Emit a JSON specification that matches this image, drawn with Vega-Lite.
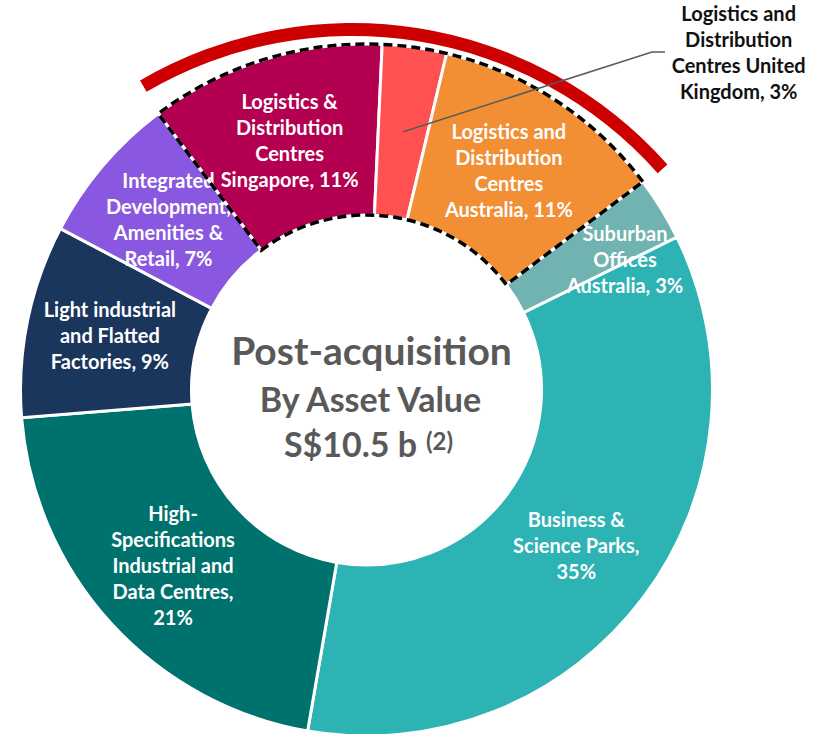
{
  "$schema": "https://vega.github.io/schema/vega-lite/v6.json",
  "width": 733,
  "height": 688,
  "autosize": {"type": "none"},
  "padding": {"left": 0, "top": 46, "right": 86, "bottom": 0},
  "background": "white",
  "config": {"view": {"stroke": null}, "font": "Lato"},
  "datasets": {
    "slices": [
      {"rank": 1, "name": "Logistics & Distribution Centres Singapore", "group": "Logistics", "value": 11, "label": ["Logistics &", "Distribution", "Centres", "Singapore, 11%"]},
      {"rank": 2, "name": "Logistics and Distribution Centres United Kingdom", "group": "Logistics", "value": 3, "label": ["Logistics and", "Distribution", "Centres United", "Kingdom, 3%"]},
      {"rank": 3, "name": "Logistics and Distribution Centres Australia", "group": "Logistics", "value": 11, "label": ["Logistics and", "Distribution", "Centres", "Australia, 11%"]},
      {"rank": 4, "name": "Suburban Offices Australia", "group": "Other", "value": 3, "label": ["Suburban", "Offices", "Australia, 3%"]},
      {"rank": 5, "name": "Business & Science Parks", "group": "Other", "value": 35, "label": ["Business &", "Science Parks,", "35%"]},
      {"rank": 6, "name": "High-Specifications Industrial and Data Centres", "group": "Other", "value": 21, "label": ["High-", "Specifications", "Industrial and", "Data Centres,", "21%"]},
      {"rank": 7, "name": "Light industrial and Flatted Factories", "group": "Other", "value": 9, "label": ["Light industrial", "and Flatted", "Factories, 9%"]},
      {"rank": 8, "name": "Integrated Development, Amenities & Retail", "group": "Other", "value": 7, "label": ["Integrated", "Development,", "Amenities &", "Retail, 7%"]}
    ],
    "leader": [
      {"px": 0.1064, "py": 0.7465, "step": 1},
      {"px": 0.8251, "py": 0.9769, "step": 2},
      {"px": 0.8627, "py": 0.9769, "step": 3}
    ]
  },
  "data": {"name": "slices"},
  "resolve": {"scale": {"theta": "independent"}},
  "layer": [
    {
      "mark": {"type": "arc", "outerRadius": 346, "innerRadius": 175, "stroke": "white", "strokeWidth": 3},
      "encoding": {
        "theta": {"field": "value", "type": "quantitative", "stack": true, "scale": {"domain": [0, 100], "range": [-0.6458, 5.6374]}},
        "order": {"field": "rank", "type": "quantitative"},
        "color": {
          "field": "name", "type": "nominal", "legend": null,
          "scale": {
            "domain": ["Logistics & Distribution Centres Singapore", "Logistics and Distribution Centres United Kingdom", "Logistics and Distribution Centres Australia", "Suburban Offices Australia", "Business & Science Parks", "High-Specifications Industrial and Data Centres", "Light industrial and Flatted Factories", "Integrated Development, Amenities & Retail"],
            "range": ["#B30050", "#FF5151", "#F28E34", "#70B3B0", "#2DB3B3", "#00726D", "#1B365D", "#8A58E0"]
          }
        }
      }
    },
    {
      "mark": {"type": "text", "radius": 260, "dy": -39, "fill": "white", "fontWeight": "bold", "fontSize": 20, "lineHeight": 26, "align": "center", "baseline": "middle"},
      "encoding": {
        "theta": {"field": "value", "type": "quantitative", "stack": true, "scale": {"domain": [0, 100], "range": [-0.6458, 5.6374]}},
        "order": {"field": "rank", "type": "quantitative"},
        "text": {"field": "label"},
        "opacity": {"condition": {"test": "datum.rank == 1 || datum.rank == 3 || datum.rank == 8", "value": 1}, "value": 0}
      }
    },
    {
      "mark": {"type": "text", "radius": 262, "dy": -26, "fill": "white", "fontWeight": "bold", "fontSize": 20, "lineHeight": 26, "align": "center", "baseline": "middle"},
      "encoding": {
        "theta": {"field": "value", "type": "quantitative", "stack": true, "scale": {"domain": [0, 100], "range": [-0.6458, 5.6374]}},
        "order": {"field": "rank", "type": "quantitative"},
        "text": {"field": "label"},
        "opacity": {"condition": {"test": "datum.rank == 5 || datum.rank == 7", "value": 1}, "value": 0}
      }
    },
    {
      "mark": {"type": "text", "radius": 262, "dy": -52, "fill": "white", "fontWeight": "bold", "fontSize": 20, "lineHeight": 26, "align": "center", "baseline": "middle"},
      "encoding": {
        "theta": {"field": "value", "type": "quantitative", "stack": true, "scale": {"domain": [0, 100], "range": [-0.6458, 5.6374]}},
        "order": {"field": "rank", "type": "quantitative"},
        "text": {"field": "label"},
        "opacity": {"condition": {"test": "datum.rank == 6", "value": 1}, "value": 0}
      }
    },
    {
      "mark": {"type": "text", "radius": 260, "dx": 37, "dy": -19, "fill": "white", "fontWeight": "bold", "fontSize": 20, "lineHeight": 26, "align": "center", "baseline": "middle"},
      "encoding": {
        "theta": {"field": "value", "type": "quantitative", "stack": true, "scale": {"domain": [0, 100], "range": [-0.6458, 5.6374]}},
        "order": {"field": "rank", "type": "quantitative"},
        "text": {"field": "label"},
        "opacity": {"condition": {"test": "datum.rank == 4", "value": 1}, "value": 0}
      }
    },
    {
      "transform": [
        {"filter": "datum.group == 'Logistics'"},
        {"aggregate": [{"op": "sum", "field": "value", "as": "total"}], "groupby": ["group"]}
      ],
      "mark": {"type": "arc", "outerRadius": 346, "innerRadius": 175, "filled": false, "stroke": "black", "strokeWidth": 3.5, "strokeDash": [9, 5]},
      "encoding": {
        "theta": {"field": "total", "type": "quantitative", "stack": true, "scale": {"domain": [0, 100], "range": [-0.6458, 5.6374]}}
      }
    },
    {
      "transform": [
        {"filter": "datum.group == 'Logistics'"},
        {"aggregate": [{"op": "sum", "field": "value", "as": "total"}], "groupby": ["group"]}
      ],
      "mark": {"type": "arc", "outerRadius": 421, "innerRadius": 408, "xOffset": -14, "yOffset": 54, "fill": "#CC0000"},
      "encoding": {
        "theta": {"field": "total", "type": "quantitative", "stack": true, "scale": {"domain": [0, 25], "range": [-0.529, 0.845]}}
      }
    },
    {
      "data": {"name": "leader"},
      "mark": {"type": "line", "stroke": "#595959", "strokeWidth": 1.5},
      "encoding": {
        "x": {"field": "px", "type": "quantitative", "axis": null, "scale": {"domain": [-1.05925, 1.05925], "nice": false, "zero": false}},
        "y": {"field": "py", "type": "quantitative", "axis": null, "scale": {"domain": [-0.99422, 0.99422], "nice": false, "zero": false}},
        "order": {"field": "step", "type": "quantitative"}
      }
    },
    {
      "mark": {"type": "text", "radius": 260, "dx": 336, "dy": -118, "fill": "#111111", "fontWeight": "bold", "fontSize": 20, "lineHeight": 26, "align": "center", "baseline": "middle"},
      "encoding": {
        "theta": {"field": "value", "type": "quantitative", "stack": true, "scale": {"domain": [0, 100], "range": [-0.6458, 5.6374]}},
        "order": {"field": "rank", "type": "quantitative"},
        "text": {"field": "label"},
        "opacity": {"condition": {"test": "datum.rank == 2", "value": 1}, "value": 0}
      }
    },
    {
      "data": {"values": [{}]},
      "mark": {"type": "text", "text": "Post-acquisition", "fill": "#595959", "fontWeight": "bold", "fontSize": 39, "align": "center", "baseline": "alphabetic", "dx": 5, "dy": -25}
    },
    {
      "data": {"values": [{}]},
      "mark": {"type": "text", "text": "By Asset Value", "fill": "#595959", "fontWeight": "bold", "fontSize": 34, "align": "center", "baseline": "alphabetic", "dx": 4, "dy": 22}
    },
    {
      "data": {"values": [{}]},
      "mark": {"type": "text", "text": "S$10.5 b", "fill": "#595959", "fontWeight": "bold", "fontSize": 34, "align": "center", "baseline": "alphabetic", "dx": -16, "dy": 67}
    },
    {
      "data": {"values": [{}]},
      "mark": {"type": "text", "text": "(2)", "fill": "#595959", "fontWeight": "bold", "fontSize": 24, "align": "center", "baseline": "alphabetic", "dx": 73, "dy": 60}
    }
  ]
}
